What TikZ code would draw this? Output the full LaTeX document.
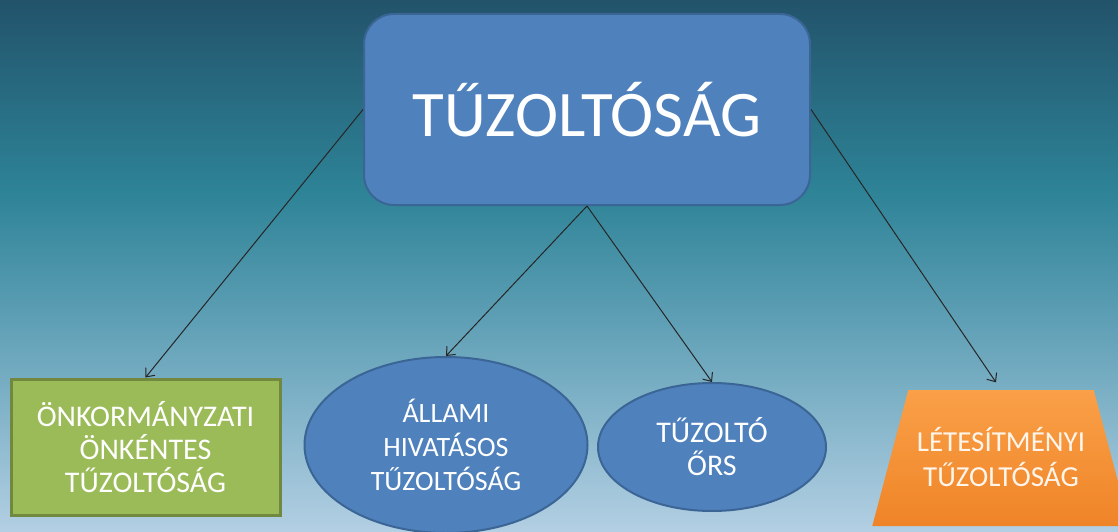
\documentclass[tikz,border=0pt]{standalone}
\usepackage{fontspec}
\setmainfont{Carlito}
\usetikzlibrary{shapes.geometric, arrows.meta, positioning, calc}

\definecolor{bgtop}{HTML}{22536B}
\definecolor{bgteal}{HTML}{2E8397}
\definecolor{bgmid}{HTML}{5E9FB5}
\definecolor{bgbot}{HTML}{B3CFE3}
\definecolor{unitblue}{HTML}{4F81BD}
\definecolor{unitblueline}{HTML}{3A6595}
\definecolor{unitgreen}{HTML}{9BBB59}
\definecolor{unitgreenline}{HTML}{71893F}
\definecolor{unitorangetop}{HTML}{FAA048}
\definecolor{unitorangebot}{HTML}{EF8427}
\pgfdeclareverticalshading{skybg}{100bp}{color(0bp)=(bgbot); color(25bp)=(bgbot); color(45bp)=(bgmid); color(57bp)=(bgteal); color(75bp)=(bgtop); color(100bp)=(bgtop)}

\begin{document}
\begin{tikzpicture}[
    x=1pt, y=-1pt,
    main/.style={rectangle, rounded corners=30pt, minimum width=446pt, minimum height=191pt, text centered, draw=unitblueline, line width=2pt, fill=unitblue, text=white, font=\fontsize{65}{70}\selectfont},
    volunteer/.style={rectangle, minimum width=269pt, minimum height=136pt, inner sep=0pt, align=center, draw=unitgreenline, line width=3pt, fill=unitgreen, text=white, font=\fontsize{30}{33}\selectfont},
    branch/.style={ellipse, inner sep=0pt, align=center, draw=unitblueline, line width=2pt, fill=unitblue, text=white},
    facility/.style={trapezium, trapezium left angle=76.5, trapezium right angle=76.5, trapezium stretches=true, minimum width=258pt, inner sep=0pt, text height=96pt, text depth=40pt, top color=unitorangetop, bottom color=unitorangebot, draw=none, text=white!92!orange, font=\fontsize{29}{34}\selectfont},
    arrow/.style={line width=1pt, draw=black!85, -{Straight Barb[length=7pt,width=12pt]}}
]

\useasboundingbox (0,0) rectangle (1118,532);
\fill[shading=skybg] (0,0) rectangle (1118,532);

% Nodes
\node (fire) [main] at (587,109.5) {TŰZOLTÓSÁG};

\node (local) [volunteer] at (145.5,447) {ÖNKORMÁNYZATI\\ÖNKÉNTES\\TŰZOLTÓSÁG};

\node (state) [branch, minimum width=283pt, minimum height=176pt, font=\fontsize{28}{34}\selectfont] at (446,445) {ÁLLAMI\\HIVATÁSOS\\TŰZOLTÓSÁG};

\node (post) [branch, minimum width=228pt, minimum height=128pt, font=\fontsize{30}{33}\selectfont] at (712,447) {TŰZOLTÓ\\ŐRS};

\node (plant) [facility] at (1001,458) {\begin{tabular}[b]{@{}c@{}}LÉTESÍTMÉNYI\\TŰZOLTÓSÁG\end{tabular}};

% Arrows
\draw [arrow] (fire.west) -- (local.north);
\draw [arrow] (fire.south) -- (state.north);
\draw [arrow] (fire.south) -- (post.north);
\draw [arrow, shorten >=9pt] (fire.east) -- (plant.north);

\end{tikzpicture}
\end{document}
